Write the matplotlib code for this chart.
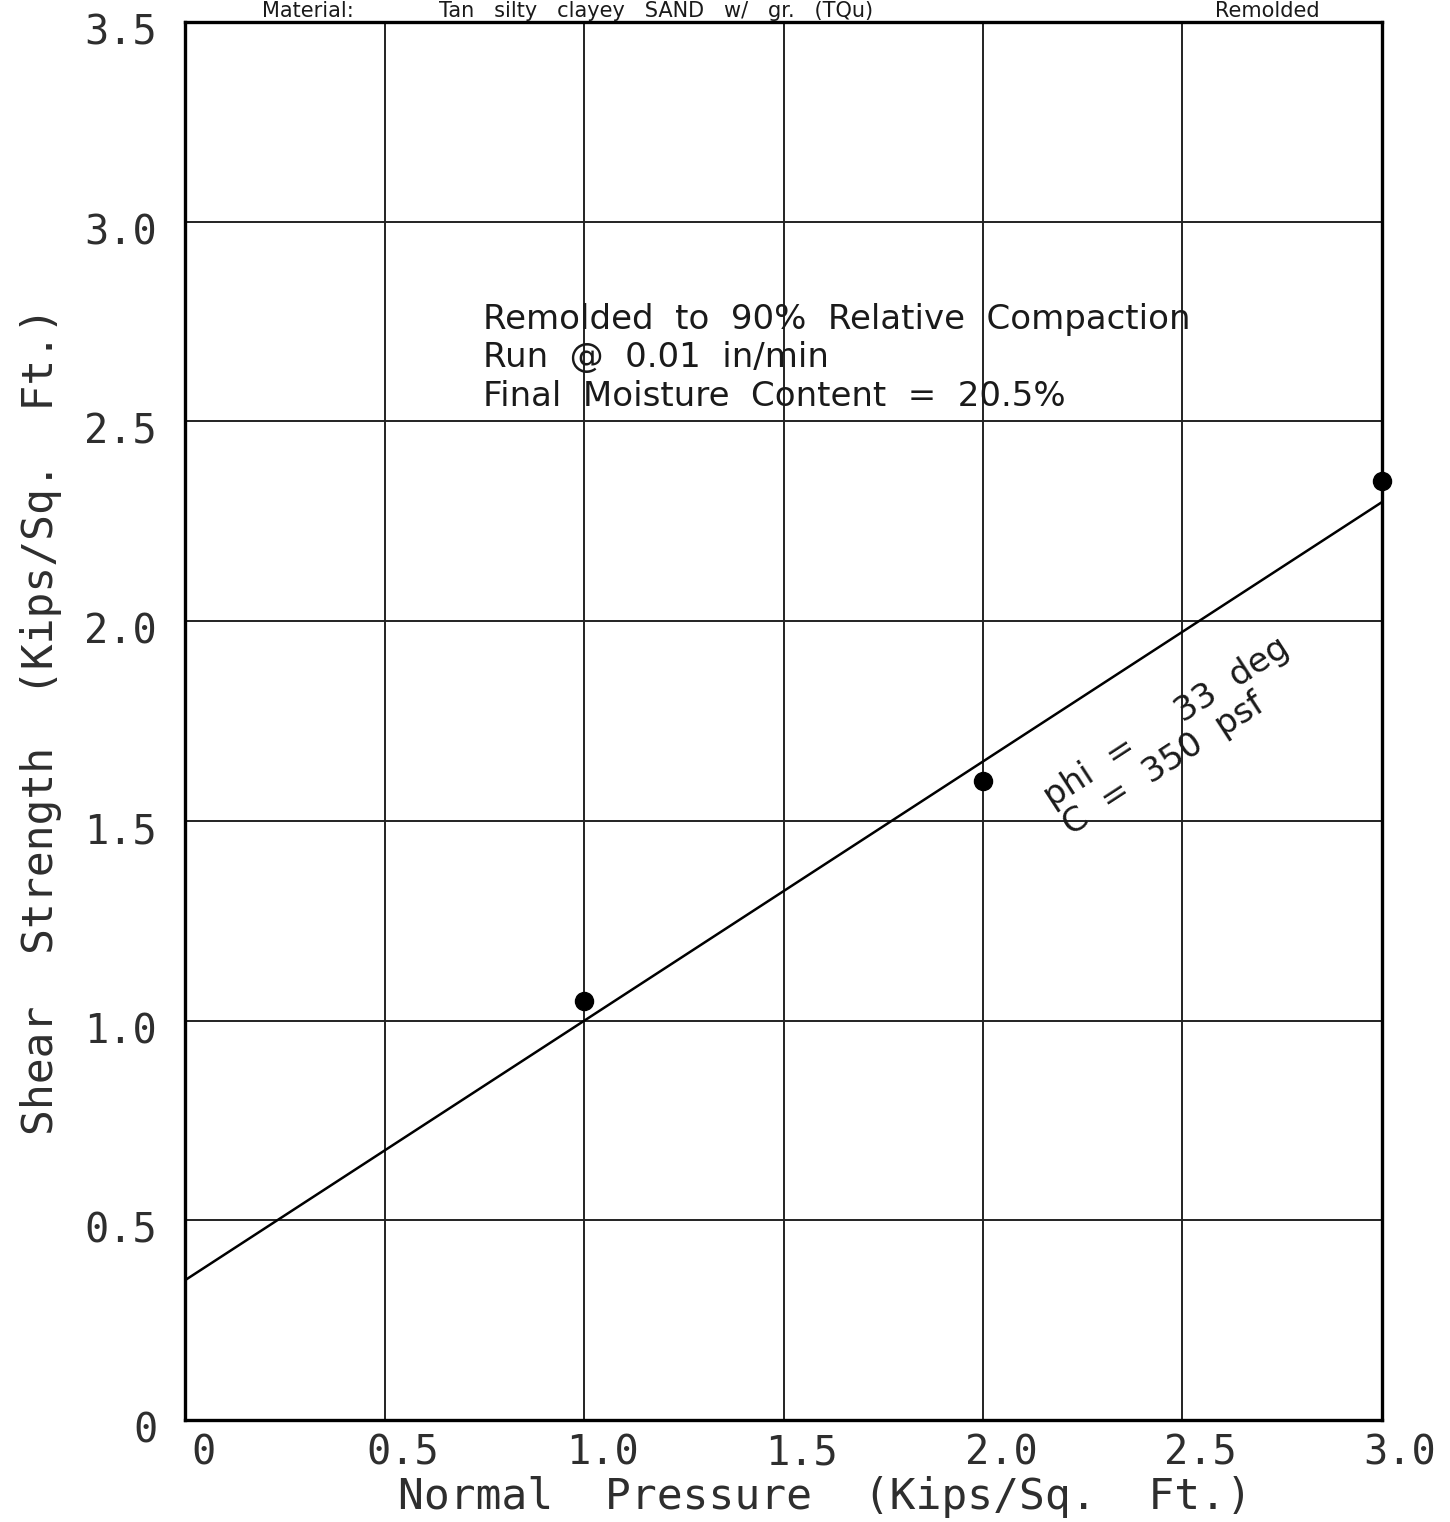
import numpy as np
import matplotlib.pyplot as plt
import matplotlib.transforms as mtransforms

normal = [1.0, 2.0, 3.0]
shear = [1.05, 1.60, 2.35]
phi_deg = 33
c_ksf = 0.35
fit_x = [0.0, 3.0]

xticks = [0, 0.5, 1.0, 1.5, 2.0, 2.5, 3.0]
xlabels = ['0', '0.5', '1.0', '1.5', '2.0', '2.5', '3.0']
yticks = [0, 0.5, 1.0, 1.5, 2.0, 2.5, 3.0, 3.5]
ylabels = ['0', '0.5', '1.0', '1.5', '2.0', '2.5', '3.0', '3.5']

mono = 'DejaVu Sans Mono'
ink = '#1a1a1a'
lite = '#2e2e2e'

fig = plt.figure(figsize=(14.5, 15.22), dpi=100)
ax = fig.add_axes([0.1276, 0.067, 0.8255, 0.9185])

fy = [c_ksf + np.tan(np.radians(phi_deg)) * x for x in fit_x]
ax.plot(fit_x, fy, color='black', lw=1.8)
ax.plot(normal, shear, 'o', color='black', ms=13, clip_on=False, zorder=5)

ax.set_xlim(0, 3.0)
ax.set_ylim(0, 3.5)
ax.set_xticks(xticks)
ax.set_yticks(yticks)
ax.set_xticklabels(xlabels, fontsize=29, family=mono, color=lite)
ax.set_yticklabels(ylabels, fontsize=29, family=mono, color=lite)
ax.tick_params(length=0)
ax.tick_params(axis='x', pad=10)
ax.tick_params(axis='y', pad=20)
# plotter labels sit a little right of / below their ticks
dx = mtransforms.ScaledTranslation(0.18, 0, fig.dpi_scale_trans)
for lab in ax.get_xticklabels():
    lab.set_transform(lab.get_transform() + dx)
dy = mtransforms.ScaledTranslation(0, -0.07, fig.dpi_scale_trans)
for lab in ax.get_yticklabels():
    lab.set_transform(lab.get_transform() + dy)

ax.grid(True, color='#222222', lw=1.4)
for s in ax.spines.values():
    s.set_linewidth(2.4)

ax.set_xlabel('Normal  Pressure  (Kips/Sq.  Ft.)', fontsize=31, family=mono,
              labelpad=4, color=lite)
ax.xaxis.set_label_coords(0.535, -0.04)
ax.set_ylabel('Shear  Strength  (Kips/Sq.  Ft.)', fontsize=31, family=mono,
              labelpad=16, color=lite)

ax.text(0.747, 2.659, 'Remolded  to  90%  Relative  Compaction\n'
        'Run  @  0.01  in/min\nFinal  Moisture  Content  =  20.5%',
        fontsize=24.5, va='center', ha='left', linespacing=1.2, color=ink)

ax.text(2.185, 1.517, 'phi  =     33  deg\nC  =  350  psf', fontsize=24.5,
        rotation=phi_deg, rotation_mode='anchor', ha='left', va='center',
        linespacing=1.05, color=ink)

fig.text(0.181, 0.9995, 'Material:', fontsize=15, va='top', ha='left',
         color=ink)
fig.text(0.303, 0.9995, 'Tan   silty   clayey   SAND   w/   gr.   (TQu)',
         fontsize=15, va='top', ha='left', color=ink)
fig.text(0.838, 0.9995, 'Remolded', fontsize=15, va='top', ha='left',
         color=ink)

fig.savefig('out.png', dpi=100)
